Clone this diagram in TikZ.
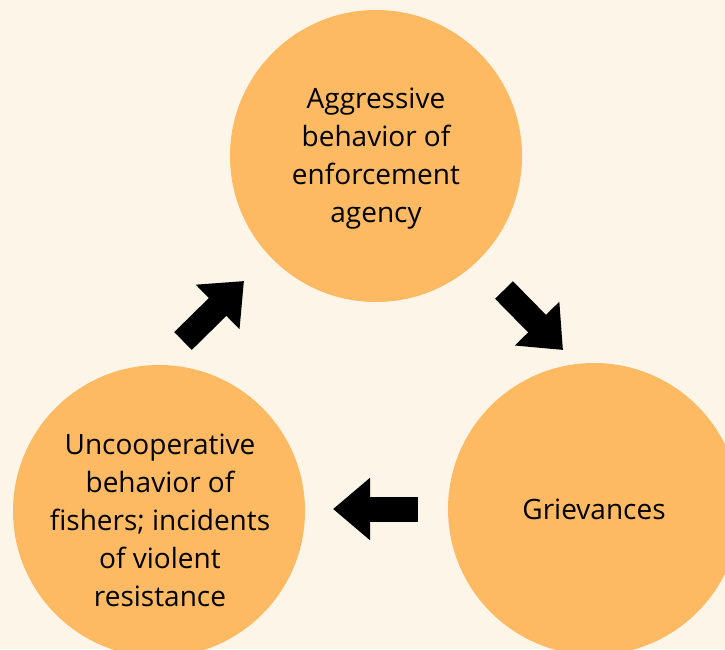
\documentclass[tikz,border=0pt]{standalone}
\usepackage{fontspec}
\setmainfont{Open Sans}
\usetikzlibrary{arrows.meta}
\definecolor{cream}{RGB}{254,245,233}
\definecolor{peach}{RGB}{253,186,99}

\tikzset{
  stage/.style={circle, fill=peach, minimum size=292pt, inner sep=0pt},
  caption/.style={align=center, font=\fontsize{28}{38}\selectfont},
  bigarrow/.style={line width=25pt, -{Triangle[width=60pt,length=37pt]}}
}

\begin{document}
\begin{tikzpicture}[x=1pt,y=-1pt]

\fill[cream] (0,0) rectangle (725,649);
\useasboundingbox (0,0) rectangle (725,649);

\node[stage] (agg) at (376,156) {};
\node[caption] (aggtext) at ([yshift=-3pt]agg.center) {Aggressive\\behavior of\\enforcement\\agency};
\node[stage, caption] (griev) at (594,509) {Grievances};
\node[stage] (unco) at (159,511) {};
\node[caption] (uncotext) at ([xshift=1pt,yshift=-9pt]unco.center) {Uncooperative\\behavior of\\fishers; incidents\\of violent\\resistance};

\coordinate (a1) at (183,341);
\coordinate (a2) at (244,281);
\coordinate (b1) at (504,290);
\coordinate (b2) at (563,350);
\coordinate (c1) at (418,509);
\coordinate (c2) at (333,509);

\draw[bigarrow] (a1) -- (a2);
\draw[bigarrow] (b1) -- (b2);
\draw[bigarrow] (c1) -- (c2);
\end{tikzpicture}
\end{document}
